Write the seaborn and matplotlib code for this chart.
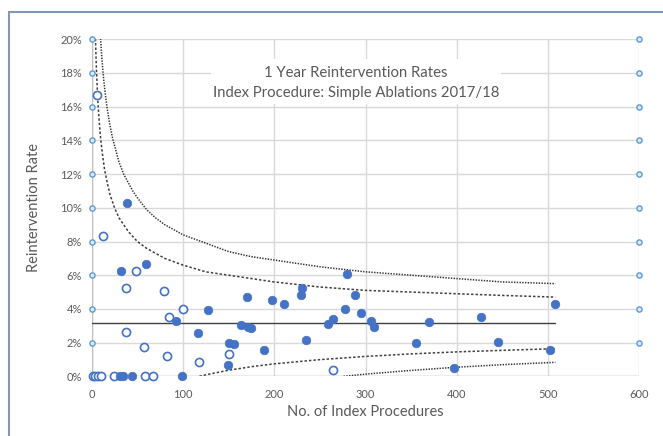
import matplotlib
matplotlib.use("Agg")
import matplotlib.pyplot as plt
from matplotlib.lines import Line2D
from matplotlib.patches import Rectangle
import seaborn as sns
import pandas as pd

# ---------------- data (rates in %) ----------------
filled_n = [39, 32, 60, 92, 127, 116, 170, 164, 171, 174, 150, 156, 149, 189, 198, 211,
            230, 229, 235, 259, 264, 277, 280, 289, 295, 306, 309, 370, 427, 355, 445, 397,
            502, 508, 31, 34, 44, 99]
filled_rate = [10.26, 6.25, 6.67, 3.26, 3.94, 2.59, 4.71, 3.05, 2.92, 2.87, 2.00, 1.92, 0.67,
               1.59, 4.55, 4.27, 5.22, 4.80, 2.13, 3.09, 3.41, 3.97, 6.07, 4.84, 3.73, 3.27,
               2.91, 3.24, 3.51, 1.97, 2.02, 0.50, 1.59, 4.32, 0.0, 0.0, 0.0, 0.0]

open_n = [6, 12, 48, 38, 79, 100, 85, 38, 57, 82, 118, 150, 264, 1, 3.5, 6.5, 10, 24, 58, 67]
open_rate = [16.67, 8.33, 6.25, 5.26, 5.06, 4.00, 3.53, 2.63, 1.75, 1.22, 0.85, 1.33, 0.38,
             0.0, 0.0, 0.0, 0.0, 0.0, 0.0, 0.0]

mean_n = [0, 508]
mean_rate = [3.16, 3.16]

upper_outer_n = [9, 10, 11, 12, 13, 15, 17, 20, 23, 26, 30, 35, 40, 45, 50, 60, 70, 80, 90,
                 100, 125, 150, 175, 200, 250, 300, 350, 400, 450, 508]
upper_outer_rate = [20.7, 19.8, 19.0, 18.3, 17.7, 16.7, 15.9, 14.9, 14.1, 13.5, 12.7, 12.0,
                    11.5, 11.0, 10.6, 9.9, 9.4, 9.0, 8.7, 8.4, 7.9, 7.4, 7.1, 6.9, 6.5, 6.2,
                    6.0, 5.8, 5.6, 5.5]

upper_inner_n = [4, 5, 6, 7, 8, 9, 10, 12, 14, 17, 20, 25, 30, 35, 40, 50, 60, 70, 80, 100,
                 125, 150, 200, 250, 300, 350, 400, 450, 508]
upper_inner_rate = [20.3, 18.5, 17.2, 16.1, 15.3, 14.6, 14.0, 13.1, 12.3, 11.5, 10.8, 10.0,
                    9.4, 9.0, 8.6, 8.0, 7.6, 7.3, 7.0, 6.6, 6.2, 6.0, 5.6, 5.3, 5.1, 5.0,
                    4.9, 4.8, 4.7]

lower_inner_n = [118, 125, 150, 175, 200, 250, 300, 350, 400, 450, 508]
lower_inner_rate = [0.0, 0.09, 0.36, 0.57, 0.74, 0.99, 1.18, 1.33, 1.45, 1.54, 1.64]

lower_outer_n = [276, 300, 350, 400, 450, 508]
lower_outer_rate = [0.0, 0.13, 0.35, 0.54, 0.69, 0.83]

axis_marker_rate = [2, 4, 6, 8, 10, 12, 14, 16, 18, 20]
left_marker_n = [0] * len(axis_marker_rate)
right_marker_n = [600] * len(axis_marker_rate)

x_ticks = [0, 100, 200, 300, 400, 500, 600]
y_ticks = [0, 2, 4, 6, 8, 10, 12, 14, 16, 18, 20]
y_tick_labels = [f"{v}%" for v in y_ticks]

title_lines = ["1 Year Reintervention Rates", "Index Procedure: Simple Ablations 2017/18"]
x_label = "No. of Index Procedures"
y_label = "Reintervention Rate"

# ---------------- style ----------------
sns.set_theme(style="white")
plt.rcParams["font.family"] = ["Lato", "DejaVu Sans"]

BLUE = "#4472C4"
LBLUE = "#5B9BD5"
GRID = "#D9D9D9"
TXT = "#595959"
LINE = "#404040"

fig = plt.figure(figsize=(6.63, 4.36), dpi=100)
ax = fig.add_axes([0.1383, 0.1369, 0.826, 0.773])

# funnel limits
def curve(xs, ys, ls, lw, color):
    d = pd.DataFrame({"n": xs, "r": ys})
    sns.lineplot(data=d, x="n", y="r", ax=ax, color=color, linestyle=ls, linewidth=lw,
                 sort=False, estimator=None, zorder=3)

curve(upper_outer_n, upper_outer_rate, (0, (0.9, 0.9)), 1.1, "#2F2F2F")
curve(upper_inner_n, upper_inner_rate, (0, (1.6, 1.3)), 1.1, "#404040")
curve(lower_inner_n, lower_inner_rate, (0, (1.6, 1.3)), 1.1, "#404040")
curve(lower_outer_n, lower_outer_rate, (0, (0.9, 0.9)), 1.1, "#2F2F2F")
sns.lineplot(x=mean_n, y=mean_rate, ax=ax, color=LINE, linewidth=1.0, zorder=3)

# axis markers
sns.scatterplot(x=left_marker_n, y=axis_marker_rate, ax=ax, s=14, marker="o",
                facecolor="#DDEBF7", edgecolor=LBLUE, linewidth=1.0, zorder=5, clip_on=False)
sns.scatterplot(x=right_marker_n, y=axis_marker_rate, ax=ax, s=14, marker="o",
                facecolor="#DDEBF7", edgecolor=LBLUE, linewidth=1.0, zorder=5, clip_on=False)

# points
sns.scatterplot(x=open_n, y=open_rate, ax=ax, s=34, marker="o", facecolor="white",
                edgecolor=BLUE, linewidth=1.2, zorder=6, clip_on=False)
sns.scatterplot(x=filled_n, y=filled_rate, ax=ax, s=38, marker="o", color=BLUE,
                edgecolor=BLUE, linewidth=0.5, zorder=6, clip_on=False)

ax.set_xlim(0, 600)
ax.set_ylim(0, 20)
ax.set_xticks(x_ticks)
ax.set_yticks(y_ticks)
ax.set_yticklabels(y_tick_labels)
ax.grid(True, color=GRID, linewidth=1.0)
ax.set_axisbelow(True)
for sp in ax.spines.values():
    sp.set_visible(False)
ax.axvline(0, color="#BFBFBF", linewidth=1.0, zorder=1)
ax.axhline(0, color="#BFBFBF", linewidth=1.0, zorder=1)
ax.tick_params(axis="both", length=0, labelsize=8, labelcolor=TXT)
ax.tick_params(axis="x", pad=9)
ax.tick_params(axis="y", pad=7)
ax.set_xlabel(x_label, fontsize=10.5, color=TXT, labelpad=4)
ax.set_ylabel(y_label, fontsize=10.5, color=TXT, labelpad=14)

# title box covering gridlines
fig.patches.append(Rectangle((211 / 663, 1 - 104 / 436), 290 / 663, 45 / 436,
                             transform=fig.transFigure, facecolor="white",
                             edgecolor="none", zorder=2))
fig.text(356 / 663, 1 - 73 / 436, title_lines[0], ha="center", va="center",
         fontsize=10.7, color=TXT, zorder=3)
fig.text(356 / 663, 1 - 93 / 436, title_lines[1], ha="center", va="center",
         fontsize=10.7, color=TXT, zorder=3)

# outer chart frame (left and top edges visible)
fig.lines.append(Line2D([9 / 663, 9 / 663], [0, 1 - 12 / 436], transform=fig.transFigure,
                        color="#8497B0", linewidth=1.5))
fig.lines.append(Line2D([9 / 663, 1], [1 - 12 / 436, 1 - 12 / 436], transform=fig.transFigure,
                        color="#8497B0", linewidth=1.5))

fig.savefig("out.png", dpi=100)
